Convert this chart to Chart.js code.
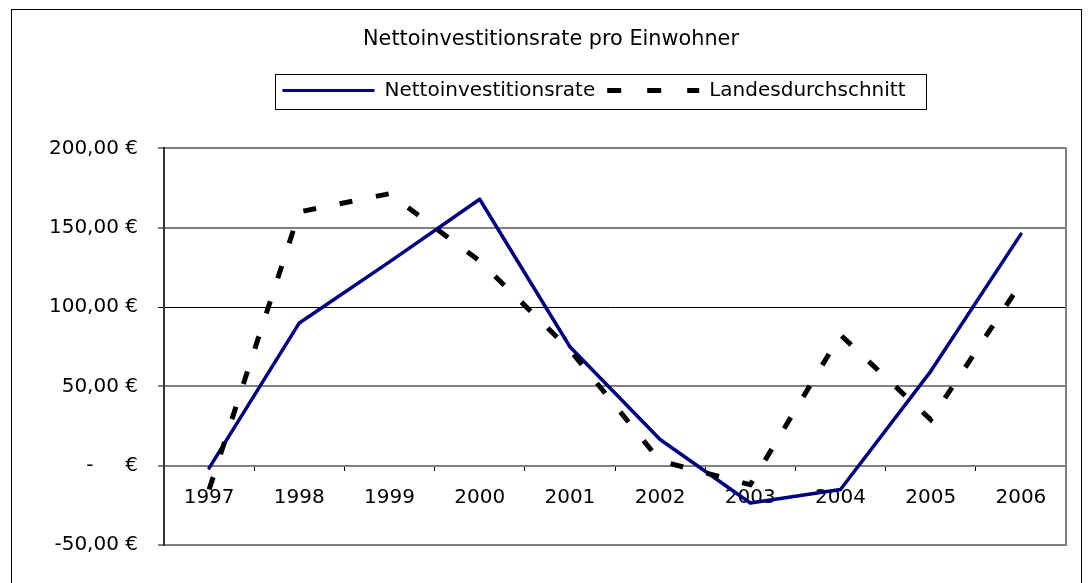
<!DOCTYPE html>
<html>
<head>
<meta charset="utf-8">
<script src="https://cdn.jsdelivr.net/npm/chart.js@4/dist/chart.umd.min.js"></script>
<style>
  html, body { margin: 0; padding: 0; background: #fff; }
  #wrap { width: 1092px; height: 583px; position: relative; }
  canvas { display: block; }
</style>
</head>
<body>
<div id="wrap"><canvas id="c" width="1092" height="583"></canvas></div>
<script>
const chartTitle = 'Nettoinvestitionsrate pro Einwohner';
const years = ['1997', '1998', '1999', '2000', '2001', '2002', '2003', '2004', '2005', '2006'];
const nettoinvestitionsrate = [-1.5, 90, 128.5, 168, 75, 16.5, -23.5, -15, 59.5, 146];
const landesdurchschnitt = [-15, 160, 171.5, 129, 73, 3, -12, 82.5, 29, 115];
const yTickValues = [-50, 0, 50, 100, 150, 200];
const yTickLabels = ['-50,00 €', '-     €', '50,00 €', '100,00 €', '150,00 €', '200,00 €'];
const seriesNames = ['Nettoinvestitionsrate', 'Landesdurchschnitt'];

const FONT = "'DejaVu Sans', Verdana, sans-serif";

const decorPlugin = {
  id: 'decor',
  afterLayout(chart) {
    const lg = chart.legend;
    if (!lg) return;
    const curCenter = (lg.left + lg.right) / 2;
    const targetCenter = 594;
    const shift = targetCenter - curCenter;
    lg.left += shift;
    lg.right += shift;
  },
  afterDraw(chart) {
    const ctx = chart.ctx;
    const ca = chart.chartArea;
    ctx.save();
    // right edge of plot area
    ctx.strokeStyle = '#808080';
    ctx.lineWidth = 2;
    ctx.beginPath();
    ctx.moveTo(ca.right, ca.top - 1);
    ctx.lineTo(ca.right, ca.bottom + 1);
    ctx.stroke();
    // legend border
    const lg = chart.legend;
    if (lg && lg.legendHitBoxes && lg.legendHitBoxes.length) {
      const hb = lg.legendHitBoxes;
      const first = hb[0], last = hb[hb.length - 1];
      const x0 = Math.round(first.left - 7) + 0.5;
      const x1 = Math.round(last.left + last.width + 20) + 0.5;
      const y0 = Math.round(first.top - 6) + 0.5;
      const y1 = Math.round(first.top + 29) + 0.5;
      ctx.strokeStyle = '#000';
      ctx.lineWidth = 1;
      ctx.strokeRect(x0, y0, x1 - x0, y1 - y0);
    }
    // outer chart border
    ctx.strokeStyle = '#000';
    ctx.lineWidth = 1;
    ctx.strokeRect(11.5, 9.5, 1070, 600);
    ctx.restore();
  }
};

new Chart(document.getElementById('c'), {
  type: 'line',
  data: {
    labels: years,
    datasets: [
      {
        label: seriesNames[0],
        data: nettoinvestitionsrate,
        borderColor: '#000080',
        backgroundColor: '#000080',
        borderWidth: 3.5,
        pointRadius: 0,
        pointHoverRadius: 0,
        tension: 0,
        borderJoinStyle: 'round',
        borderCapStyle: 'round',
        fill: false,
        order: 1
      },
      {
        label: seriesNames[1],
        data: landesdurchschnitt,
        borderColor: '#000000',
        backgroundColor: '#000000',
        borderWidth: 5,
        borderDash: [13, 24],
        borderCapStyle: 'butt',
        borderJoinStyle: 'miter',
        pointRadius: 0,
        pointHoverRadius: 0,
        tension: 0,
        fill: false,
        order: 0
      }
    ]
  },
  options: {
    responsive: false,
    animation: false,
    devicePixelRatio: 1,
    layout: { padding: { left: 36, right: 26, top: 0, bottom: 38 } },
    plugins: {
      title: {
        display: true,
        text: chartTitle,
        color: '#000',
        font: { family: FONT, size: 20.8, weight: 'normal', lineHeight: 1.2 },
        padding: { top: 27.5, bottom: 16 }
      },
      legend: {
        display: true,
        position: 'top',
        labels: {
          color: '#000',
          font: { family: FONT, size: 20, weight: 'normal' },
          usePointStyle: true,
          pointStyle: 'line',
          pointStyleWidth: 92,
          padding: 12,
          sort: (a, b) => a.datasetIndex - b.datasetIndex,
          generateLabels(chart) {
            const items = Chart.defaults.plugins.legend.labels.generateLabels(chart);
            items.forEach(it => {
              it.pointStyle = 'line';
              if (it.datasetIndex === 0) { it.lineWidth = 3; it.lineDash = []; }
              else { it.lineWidth = 5; it.lineDash = [14, 26]; it.lineCap = 'butt'; }
            });
            return items;
          }
        }
      },
      subtitle: {
        display: true,
        text: '',
        weight: 100,
        font: { family: FONT, size: 10, lineHeight: 1 },
        padding: { top: 28, bottom: 0 }
      },
      tooltip: { enabled: false }
    },
    scales: {
      x: {
        type: 'category',
        position: { y: 0 },
        offset: true,
        grid: {
          offset: true,
          drawOnChartArea: false,
          color: '#000',
          tickColor: '#000',
          tickLength: 5,
          lineWidth: 1
        },
        border: { display: false },
        ticks: {
          color: '#000',
          font: { family: FONT, size: 20 },
          padding: 15,
          maxRotation: 0,
          autoSkip: false
        }
      },
      y: {
        type: 'linear',
        position: 'left',
        min: -50,
        max: 200,
        afterFit(scale) { scale.width = 128; },
        afterBuildTicks(scale) { scale.ticks = yTickValues.map(v => ({ value: v })); },
        grid: {
          color: (c) => (c.tick && c.tick.value === 100) ? '#000000' : '#808080',
          lineWidth: (c) => (c.tick && c.tick.value === 100) ? 1 : 2,
          tickColor: '#000',
          tickLength: 6,
          tickWidth: 1
        },
        border: { display: true, color: '#333333', width: 2 },
        ticks: {
          color: '#000',
          font: { family: FONT, size: 20 },
          padding: 20,
          callback: (v) => {
            const i = yTickValues.indexOf(v);
            return i >= 0 ? yTickLabels[i] : '';
          }
        }
      }
    }
  },
  plugins: [decorPlugin]
});
</script>
</body>
</html>
